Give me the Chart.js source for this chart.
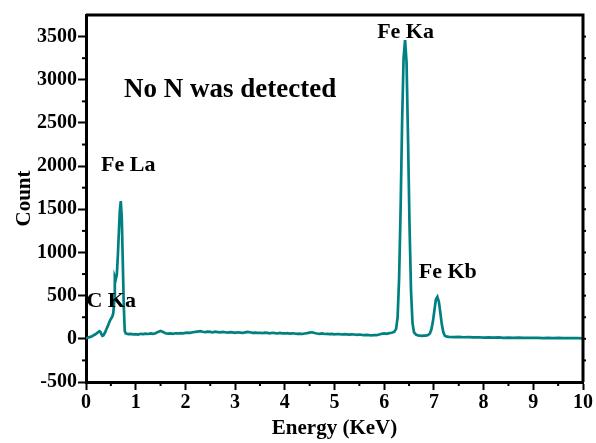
<!DOCTYPE html>
<html>
<head>
<meta charset="utf-8">
<script src="https://cdn.jsdelivr.net/npm/chart.js@4/dist/chart.umd.min.js"></script>
<style>
html,body{margin:0;padding:0;background:#fff;}
#wrap{width:596px;height:443px;position:relative;}
</style>
</head>
<body>
<div id="wrap"><canvas id="c" width="596" height="443"></canvas></div>
<script>
const energy = [0.00,0.03,0.06,0.09,0.12,0.15,0.18,0.21,0.24,0.27,0.29,0.31,0.33,0.35,0.38,0.41,0.44,0.47,0.50,0.53,0.55,0.57,0.58,0.60,0.62,0.64,0.66,0.68,0.70,0.72,0.74,0.76,0.78,0.80,0.85,0.90,0.95,
1.00,1.05,1.10,1.15,1.20,1.25,1.30,1.35,1.40,1.45,1.50,1.55,1.60,1.65,1.70,1.75,1.80,1.85,1.90,1.95,
2.00,2.05,2.10,2.15,2.20,2.25,2.30,2.35,2.40,2.45,2.50,2.55,2.60,2.65,2.70,2.75,2.80,2.85,2.90,2.95,
3.00,3.05,3.10,3.15,3.20,3.25,3.30,3.35,3.40,3.45,3.50,3.55,3.60,3.65,3.70,3.75,3.80,3.85,3.90,3.95,
4.00,4.05,4.10,4.15,4.20,4.25,4.30,4.35,4.40,4.45,4.50,4.55,4.60,4.65,4.70,4.75,4.80,4.85,4.90,4.95,
5.00,5.05,5.10,5.15,5.20,5.25,5.30,5.35,5.40,5.45,5.50,5.55,5.60,5.65,5.70,5.75,5.80,5.85,5.90,5.95,
6.00,6.05,6.10,6.15,6.20,6.24,6.27,6.30,6.33,6.36,6.39,6.42,6.45,6.48,6.51,6.54,6.57,6.60,6.64,6.68,6.72,6.76,6.80,6.84,6.88,6.92,6.95,6.98,
7.01,7.04,7.07,7.10,7.13,7.16,7.19,7.22,7.26,7.30,7.40,7.50,7.60,7.70,7.80,7.90,
8.00,8.10,8.20,8.30,8.40,8.50,8.60,8.70,8.80,8.90,9.00,9.10,9.20,9.30,9.40,9.50,9.60,9.70,9.80,9.90,10.00];
const counts = [8,12,18,22,30,40,50,60,75,88,80,55,35,40,70,110,150,195,230,260,300,450,720,690,740,950,1220,1480,1595,1400,900,380,90,62,55,58,52,
55,50,58,54,60,56,62,58,65,80,90,78,65,60,62,58,64,62,66,63,
68,72,70,76,80,84,88,82,78,84,80,76,82,78,74,80,76,72,78,74,
70,76,72,68,74,80,76,70,72,68,70,66,72,68,64,70,66,62,68,64,
62,66,60,64,62,58,60,56,62,66,72,76,68,62,58,62,56,58,54,58,
52,56,54,50,54,52,48,52,50,46,50,46,44,46,42,40,44,42,50,58,
62,58,66,70,80,115,250,700,1500,2500,3250,3460,3200,2300,1300,550,180,75,48,40,36,34,36,38,44,62,110,200,
330,455,486,430,300,165,75,35,25,22,20,22,18,20,16,18,
15,16,14,16,12,14,12,14,10,12,10,12,9,11,8,10,8,9,7,8,6];
const xTicks = [0,1,2,3,4,5,6,7,8,9,10];
const yTicks = [-500,0,500,1000,1500,2000,2500,3000,3500];
const xMinorTicks = [0.5,1.5,2.5,3.5,4.5,5.5,6.5,7.5,8.5,9.5];
const yMinorTicks = [-250,250,750,1250,1750,2250,2750,3250,3750];
const peakLabels = ['No N was detected','Fe Ka','Fe Kb','Fe La','C Ka'];
const peakLabelX = [2.9,6.43,7.28,0.85,0.507];
const peakLabelY = [2800,3488,701,1942,363];
const peakLabelSize = [27,22,22,22,22];

const FONT = '"Liberation Serif","Times New Roman",serif';

const framePlugin = {
  id:'frame',
  afterDraw(chart){
    const ctx = chart.ctx, a = chart.chartArea;
    const xs = chart.scales.x, ys = chart.scales.y;
    ctx.save();
    ctx.strokeStyle = '#000';
    ctx.lineWidth = 2;
    xMinorTicks.forEach(v=>{
      const px = xs.getPixelForValue(v);
      ctx.beginPath(); ctx.moveTo(px, a.bottom); ctx.lineTo(px, a.bottom+4); ctx.stroke();
    });
    yMinorTicks.forEach(v=>{
      const py = ys.getPixelForValue(v);
      if (v < 3700) { ctx.beginPath(); ctx.moveTo(a.left, py); ctx.lineTo(a.left-4, py); ctx.stroke(); }
    });
    yTicks.concat(yMinorTicks).forEach(v=>{
      const py = ys.getPixelForValue(v);
      if (v > -500 && v < 3700) { ctx.beginPath(); ctx.moveTo(a.right, py); ctx.lineTo(a.right+3, py); ctx.stroke(); }
    });
    ctx.lineWidth = 3;
    ctx.beginPath();
    ctx.moveTo(a.left, a.top); ctx.lineTo(a.right, a.top); ctx.lineTo(a.right, a.bottom);
    ctx.stroke();
    ctx.fillStyle = '#000';
    ctx.textAlign = 'center';
    ctx.textBaseline = 'alphabetic';
    peakLabels.forEach((t,i)=>{
      ctx.font = 'bold ' + peakLabelSize[i] + 'px ' + FONT;
      ctx.fillText(t, xs.getPixelForValue(peakLabelX[i]), ys.getPixelForValue(peakLabelY[i]));
    });
    ctx.restore();
  }
};

new Chart(document.getElementById('c'), {
  type:'line',
  data:{
    datasets:[{
      data: energy.map((e,i)=>({x:e, y:counts[i]})),
      borderColor:'#008080',
      borderWidth:2.7,
      pointRadius:0,
      tension:0,
      fill:false
    }]
  },
  options:{
    responsive:false,
    animation:false,
    events:[],
    layout:{padding:{top:15,right:13,left:0,bottom:0}},
    plugins:{legend:{display:false},tooltip:{enabled:false}},
    scales:{
      x:{
        type:'linear', min:0, max:10,
        afterBuildTicks(s){ s.ticks = xTicks.map(v=>({value:v})); },
        afterFit(s){ s.height = 61; },
        border:{display:true,color:'#000',width:3},
        grid:{drawOnChartArea:false, drawTicks:true, tickLength:8, tickWidth:2, tickColor:'#000'},
        ticks:{color:'#000', padding:1, maxRotation:0, autoSkip:false, callback:v=>String(v), font:{family:FONT, size:20, weight:'bold'}},
        title:{display:true, text:'Energy (KeV)', color:'#000', padding:{top:0,bottom:2}, font:{family:FONT, size:21, weight:'bold'}}
      },
      y:{
        type:'linear', min:-500, max:3750,
        afterBuildTicks(s){ s.ticks = yTicks.map(v=>({value:v})); },
        afterFit(s){ s.width = 86; },
        border:{display:true,color:'#000',width:3},
        grid:{drawOnChartArea:false, drawTicks:true, tickLength:8, tickWidth:2, tickColor:'#000'},
        ticks:{color:'#000', padding:1, autoSkip:false, callback:v=>String(v), font:{family:FONT, size:20, weight:'bold'}},
        title:{display:true, text:'Count', color:'#000', padding:{top:12,bottom:0}, font:{family:FONT, size:21, weight:'bold'}}
      }
    }
  },
  plugins:[framePlugin]
});
</script>
</body>
</html>
